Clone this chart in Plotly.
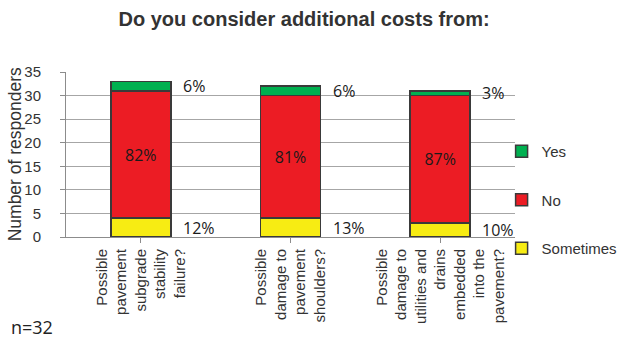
import plotly.graph_objects as go

categories = [
    "Possible<br>pavement<br>subgrade<br>stability<br>failure?",
    "Possible<br>damage to<br>pavement<br>shoulders?",
    "Possible<br>damage to<br>utilities and<br>drains<br>embedded<br>into the<br>pavement?",
]
sometimes = [4, 4, 3]
no = [27, 26, 27]
yes = [2, 2, 1]

colors = {"Sometimes": "#F7EC13", "No": "#EC1C24", "Yes": "#00B050"}
ranks = {"Yes": 1, "No": 2, "Sometimes": 3}
label_font = dict(family="Open Sans, Lato, sans-serif", size=16, color="#1a1a1a")
sans = "Liberation Sans, Arial, sans-serif"

totals = [s + n + y for s, n, y in zip(sometimes, no, yes)]


def pct(v, t):
    return f"{int(v * 100 / t + 0.5)}%"


x_idx = list(range(len(categories)))

fig = go.Figure()
series = [("Sometimes", sometimes), ("No", no), ("Yes", yes)]
for name, vals in series:
    kw = {}
    if name == "No":
        kw = dict(
            text=[pct(v, t) for v, t in zip(vals, totals)],
            textposition="inside",
            insidetextanchor="middle",
            textfont=label_font,
            textangle=0,
        )
    fig.add_trace(go.Bar(
        x=x_idx, y=vals, name=name,
        marker=dict(color=colors[name], line=dict(color="#3a3a3a", width=1.5)),
        width=0.4,
        legendgroup=name,
        legendrank=ranks[name],
        hoverinfo="skip",
        **kw,
    ))

# side labels for the thin top and bottom segments
for j in x_idx:
    t = totals[j]
    fig.add_annotation(x=j, y=sometimes[j] / 2, text=pct(sometimes[j], t),
                       xanchor="left", xshift=40, showarrow=False, font=label_font)
    fig.add_annotation(x=j, y=sometimes[j] + no[j] + yes[j] / 2, text=pct(yes[j], t),
                       xanchor="left", xshift=40, showarrow=False, font=label_font)

fig.add_annotation(xref="paper", yref="paper", x=-0.128, y=-0.545,
                   xanchor="left", yanchor="middle", text="n=32", showarrow=False,
                   font=dict(family="Open Sans, Lato, sans-serif", size=18,
                             color="#222222"))

# y-axis title placed as rotated text beside the tick labels
fig.add_annotation(xref="paper", yref="paper", x=-0.114, y=0.5,
                   xanchor="center", yanchor="middle", textangle=-90,
                   text="Number of responders", showarrow=False,
                   font=dict(family=sans, size=17.5, color="#333333"))

fig.update_layout(
    width=627, height=338,
    margin=dict(l=66, r=112, t=72, b=101, autoexpand=False),
    paper_bgcolor="white", plot_bgcolor="white",
    barmode="stack",
    title=dict(text="<b>Do you consider additional costs from:</b>",
               x=0.485, xanchor="center", y=0.945, yanchor="middle",
               font=dict(family=sans, size=20, color="#333333")),
    showlegend=True,
    legend=dict(xref="container", yref="container",
                x=0.8, y=0.408, xanchor="left", yanchor="middle",
                traceorder="grouped", tracegroupgap=26,
                font=dict(family=sans, size=15, color="#333333"),
                itemwidth=30, bgcolor="rgba(0,0,0,0)"),
    font=dict(family=sans, size=15, color="#333333"),
)

fig.update_xaxes(
    tickmode="array", tickvals=x_idx, ticktext=categories,
    range=[-0.5, 2.5], tickangle=-90,
    showline=True, linecolor="#8c8c8c", linewidth=1,
    ticks="outside", ticklen=5, tickcolor="#8c8c8c",
    showgrid=False, tickfont=dict(family=sans, size=15, color="#333333"),
    tickson="boundaries",
)

fig.update_yaxes(
    range=[0, 35], dtick=5, tick0=0,
    showgrid=True, gridcolor="#a6a6a6", gridwidth=1,
    showline=True, linecolor="#8c8c8c", linewidth=1,
    ticks="outside", ticklen=5, tickcolor="#8c8c8c",
    zeroline=False,
    tickfont=dict(family=sans, size=15, color="#333333"),
    ticklabelstandoff=16,
)

fig.write_html("out.html")
